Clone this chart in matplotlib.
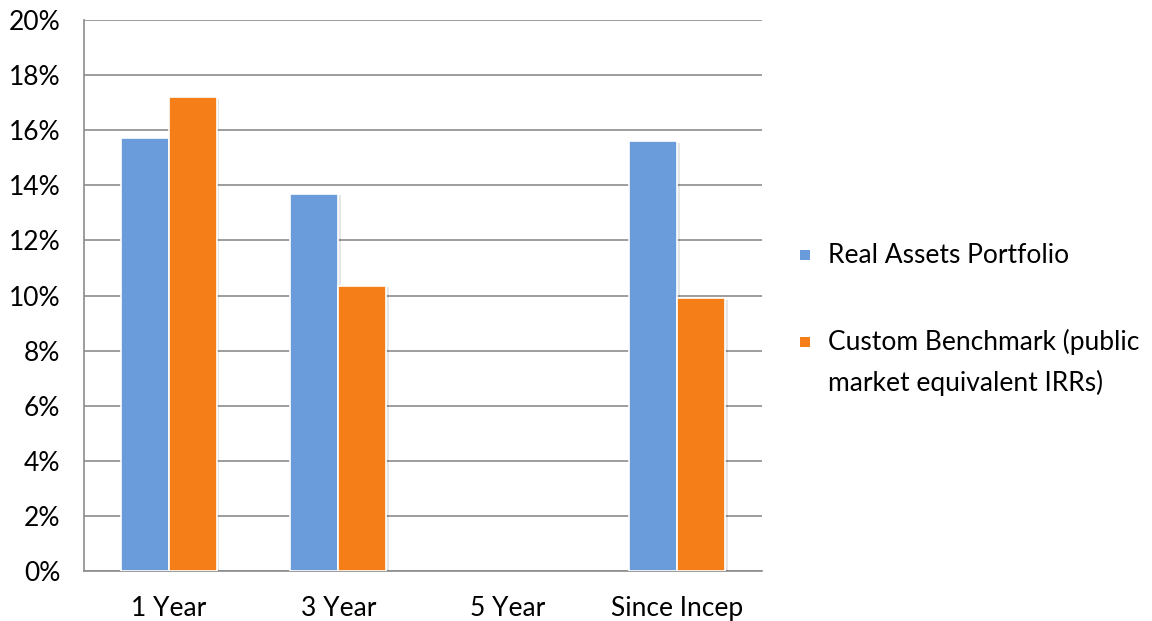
import numpy as np
import matplotlib
matplotlib.use("Agg")
import matplotlib.pyplot as plt
from matplotlib.patches import Rectangle
import matplotlib.patheffects as pe

categories = ["1 Year", "3 Year", "5 Year", "Since Incep"]
real_assets = [15.7, 13.7, np.nan, 15.6]
custom_benchmark = [17.2, 10.35, np.nan, 9.9]
series_names = ["Real Assets Portfolio", "Custom Benchmark (public\nmarket equivalent IRRs)"]
yticks = [0, 2, 4, 6, 8, 10, 12, 14, 16, 18, 20]

plt.rcParams['font.family'] = ['Lato', 'DejaVu Sans']
FS = 19

blue = "#6A9BDA"
orange = "#F57E19"
grid_c = "#8C8C8C"

fig = plt.figure(figsize=(11.52, 6.21), dpi=100)
ax = fig.add_axes([84/1152, 1-571/621, (762-84)/1152, (571-20)/621])

x = np.arange(len(categories))
w = 0.283
b1 = ax.bar(x - w/2, real_assets, width=w, color=blue, edgecolor='white', linewidth=1.2, zorder=3)
b2 = ax.bar(x + w/2, custom_benchmark, width=w, color=orange, edgecolor='white', linewidth=1.2, zorder=3)
for b in list(b1) + list(b2):
    b.set_path_effects([pe.SimplePatchShadow(offset=(2, -1), shadow_rgbFace='#000000', alpha=0.10), pe.Normal()])

ax.set_xlim(-0.5, len(categories) - 0.5)
ax.set_ylim(0, 20)
ax.set_yticks(yticks)
ax.set_yticklabels([f"{t}%" for t in yticks], fontsize=FS)
ax.set_xticks(x)
ax.set_xticklabels(categories, fontsize=FS)
ax.tick_params(axis='both', length=0, colors='black')
ax.tick_params(axis='y', pad=17)
ax.tick_params(axis='x', pad=18)
ax.grid(axis='y', color=grid_c, linewidth=1.2, zorder=0)
ax.set_axisbelow(True)
for s in ['top', 'right']:
    ax.spines[s].set_visible(False)
for s in ['left', 'bottom']:
    ax.spines[s].set_color(grid_c)
    ax.spines[s].set_linewidth(1.2)

# legend (manual)
legend_y = [255, 342]
line_gap = 41
colors = [blue, orange]
for name, c, yy in zip(series_names, colors, legend_y):
    fig.add_artist(Rectangle((800/1152, 1-(yy+5)/621), 10/1152, 10/621, transform=fig.transFigure,
                             facecolor=c, edgecolor='none'))
    for i, line in enumerate(name.split('\n')):
        fig.text(828/1152, 1-(yy + i*line_gap)/621, line, fontsize=FS, va='center', ha='left')

fig.savefig("out.png", dpi=100)
